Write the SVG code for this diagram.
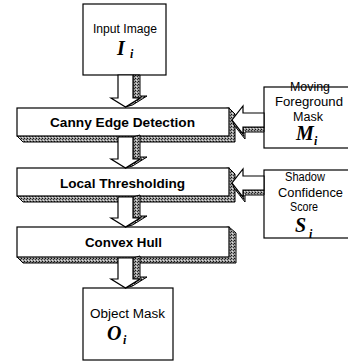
<svg xmlns="http://www.w3.org/2000/svg" width="348" height="362" viewBox="0 0 348 362">
<defs>
<pattern id="hatch" width="3" height="3" patternUnits="userSpaceOnUse">
<rect width="3" height="3" fill="#9c9c9c"/>
<rect x="0" y="0" width="1" height="1" fill="#111"/>
<rect x="2" y="1" width="1" height="1" fill="#333"/>
<rect x="1" y="2" width="1" height="1" fill="#e0e0e0"/>
</pattern>
<style>
.box{fill:#fff;stroke:#000;stroke-width:1.2}
.shade{fill:url(#hatch);stroke:#000;stroke-width:1}
.front{fill:#fff;stroke:#000;stroke-width:1.2;stroke-linejoin:miter}
.lbl{font-family:"Liberation Sans",Arial,sans-serif;font-size:12px;fill:#000;text-anchor:start}
.bold{font-weight:bold}
.math{font-family:"Liberation Serif","Times New Roman",serif;font-weight:bold;font-style:italic;font-size:20px;fill:#000}
.sub{font-family:"Liberation Serif","Times New Roman",serif;font-style:italic;font-weight:bold;font-size:12px;fill:#000}
</style>
</defs>
<rect width="348" height="362" fill="#fff"/>

<g id="input-image">
<rect class="box" x="83" y="4" width="83" height="71"/>
<text class="lbl" x="93" y="33" textLength="64" lengthAdjust="spacingAndGlyphs">Input Image</text>
<text class="math" x="117" y="55">I</text><text class="sub" x="130" y="58">i</text>
</g>

<g id="canny">
<polygon class="shade" points="229,108 235,114 235,142 23,142 17,136"/>
<rect class="box" x="17" y="108" width="212" height="28"/>
<text class="lbl bold" x="50" y="127" textLength="145" lengthAdjust="spacingAndGlyphs">Canny Edge Detection</text>
</g>

<g id="local-thresholding">
<polygon class="shade" points="229,168 235,174 235,202 23,202 17,196"/>
<rect class="box" x="17" y="168" width="212" height="28"/>
<text class="lbl bold" x="60" y="188" textLength="125" lengthAdjust="spacingAndGlyphs">Local Thresholding</text>
</g>

<g id="convex-hull">
<polygon class="shade" points="229,227 236,233 236,263 23,263 17,257"/>
<rect class="box" x="17" y="227" width="212" height="30"/>
<text class="lbl bold" x="85" y="247" textLength="77" lengthAdjust="spacingAndGlyphs">Convex Hull</text>
</g>

<g id="object-mask">
<rect class="box" x="83" y="288" width="90" height="72"/>
<text class="lbl" x="90" y="318" textLength="75" lengthAdjust="spacingAndGlyphs">Object Mask</text>
<text class="math" x="107" y="340">O</text><text class="sub" x="123" y="344">i</text>
</g>

<g id="moving-foreground-mask">
<rect class="box" x="264" y="87" width="90" height="61"/>
<text class="lbl" x="290" y="91" textLength="40" lengthAdjust="spacingAndGlyphs">Moving</text>
<text class="lbl" x="275" y="106" textLength="68" lengthAdjust="spacingAndGlyphs">Foreground</text>
<text class="lbl" x="293" y="121" textLength="30" lengthAdjust="spacingAndGlyphs">Mask</text>
<text class="math" x="296" y="140">M</text><text class="sub" x="314" y="145">i</text>
</g>

<g id="shadow-confidence-score">
<rect class="box" x="264" y="170" width="90" height="68"/>
<text class="lbl" x="285" y="181" textLength="40" lengthAdjust="spacingAndGlyphs">Shadow</text>
<text class="lbl" x="278" y="197" textLength="65" lengthAdjust="spacingAndGlyphs">Confidence</text>
<text class="lbl" x="290" y="211" textLength="28" lengthAdjust="spacingAndGlyphs">Score</text>
<text class="math" x="295" y="232">S</text><text class="sub" x="309" y="238">i</text>
</g>

<g id="connectors">
<!-- Input -> Canny -->
<polygon class="shade" points="133,75 140,75 140,96 147,96 132.5,105 125.5,107 140,98 133,98"/>
<polygon class="front" points="118,75 133,75 133,98 140,98 125.5,107 111,98 118,98"/>
<!-- Canny -> Local -->
<polygon class="shade" points="133,137 140,135 140,157 147,157 132.5,166 125.5,168 140,159 133,159"/>
<polygon class="front" points="118,137 133,137 133,159 140,159 125.5,168 111,159 118,159"/>
<!-- Local -> Convex -->
<polygon class="shade" points="133,197 140,195 140,216 147,216 132.5,225 125.5,227 140,218 133,218"/>
<polygon class="front" points="118,197 133,197 133,218 140,218 125.5,227 111,218 118,218"/>
<!-- Convex -> Object -->
<polygon class="shade" points="133,258 140,256 140,277 147,277 132.5,286 125.5,288 140,279 133,279"/>
<polygon class="front" points="118,258 133,258 133,279 140,279 125.5,288 111,279 118,279"/>
<!-- Moving Foreground Mask -> Canny -->
<polygon class="shade" points="232,120 243,134 243,127 264,127 264,132 245,132 245,139 234,125"/>
<polygon class="front" points="264,113 243,113 243,106 232,120 243,134 243,127 264,127"/>
<!-- Shadow Confidence -> Local -->
<polygon class="shade" points="232,183 243,197 243,190 264,190 264,195 245,195 245,202 234,188"/>
<polygon class="front" points="264,176 243,176 243,169 232,183 243,197 243,190 264,190"/>
</g>
</svg>
